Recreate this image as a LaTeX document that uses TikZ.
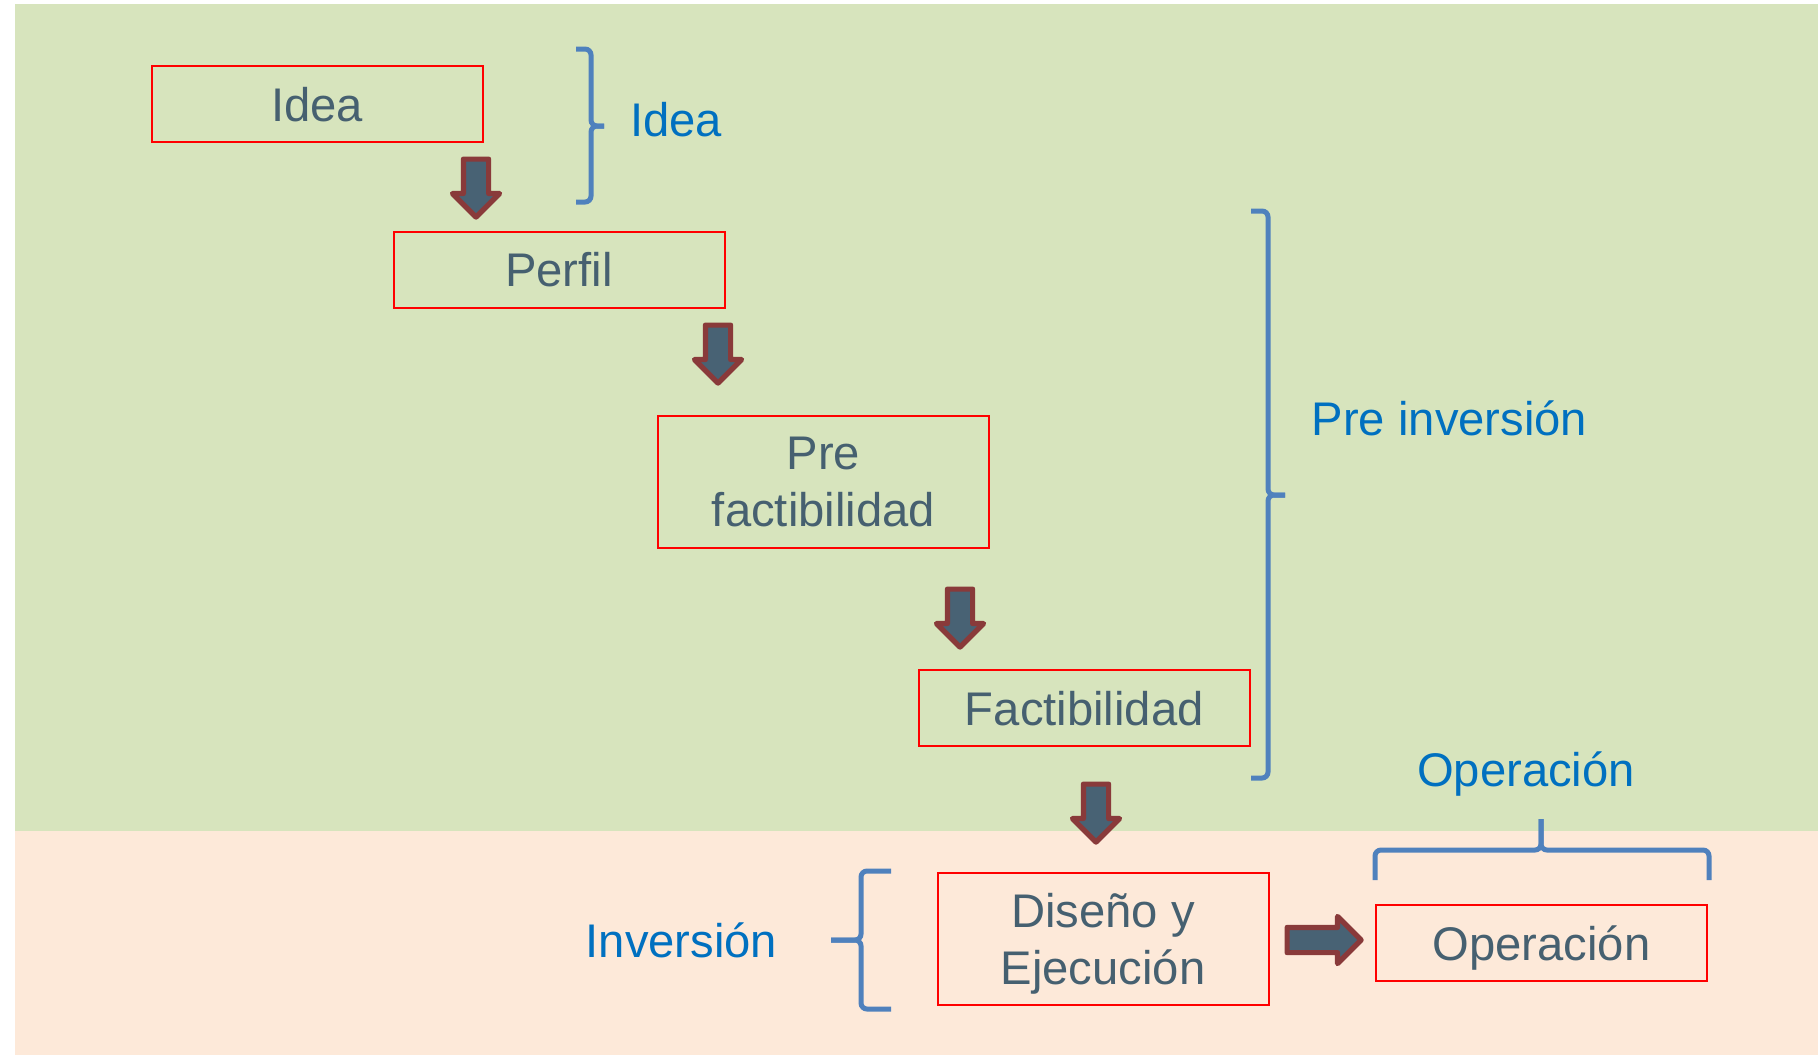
\documentclass[tikz,border=0pt]{standalone}
\usepackage{fontspec}
\setmainfont{Liberation Sans}
\usetikzlibrary{shapes.arrows}
\definecolor{fondoverde}{RGB}{215,228,189}
\definecolor{fondorosa}{RGB}{253,233,217}
\definecolor{texto}{RGB}{70,96,112}
\definecolor{rojo}{RGB}{255,0,0}
\definecolor{flecharel}{RGB}{72,98,116}
\definecolor{flechaborde}{RGB}{137,58,58}
\definecolor{llaveazul}{RGB}{79,129,189}
\definecolor{etiqueta}{RGB}{0,112,192}
\tikzset{
  caja/.style={draw=rojo,line width=1pt,minimum width=165.5pt,minimum height=38pt,
    text=texto,align=center,text depth=0pt,font=\fontsize{23.6}{28.5}\selectfont},
  flecha/.style={single arrow,draw=flechaborde,fill=flecharel,line width=2.6pt,line join=round,
    inner sep=5pt,minimum width=21pt,single arrow head extend=5.5pt,
    minimum height=29pt,anchor=tail},
  llave/.style={draw=llaveazul,line width=2.5pt,rounded corners=3pt},
  etapa/.style={text=etiqueta,anchor=base,font=\fontsize{23.6}{28.5}\selectfont},
}
\begin{document}
\begin{tikzpicture}[x=0.5pt,y=-0.5pt]
  \useasboundingbox (0,0) rectangle (1818,1055);
  \fill[fondoverde] (15,4) rectangle (1818,831);
  \fill[fondorosa] (15,831) rectangle (1818,1055);
  \node[caja] (idea) at (317,104) {Idea};
  \node[caja] (perfil) at (559,269.5) {Perfil};
  \node[caja,minimum height=66pt] (prefact) at (823.5,482) {Pre\\factibilidad};
  \node[caja] (fact) at (1084.3,708) {Factibilidad};
  \node[caja,minimum height=66pt] (diseno) at (1103,938.5) {Diseño y\\Ejecución};
  \node[caja] (operacion) at (1541.5,943) {Operación};
  \node[flecha,shape border rotate=270] (f1) at (476,156.5) {};
  \node[flecha,shape border rotate=270] (f2) at (718,322.5) {};
  \node[flecha,shape border rotate=270] (f3) at (960,586.5) {};
  \node[flecha,shape border rotate=270] (f4) at (1096,781.5) {};
  \node[flecha,minimum height=37pt] (f5) at (1284.5,940) {};
  \draw[llave] (576,49) -| (591,126) -- (604,126);
  \draw[llave] (604,126) -- (591,126) |- (576,202);
  \draw[llave] (1251,211) -| (1268,495) -- (1285,495);
  \draw[llave] (1285,495) -- (1268,495) |- (1251,778);
  \draw[llave] (891,871) -| (861,940) -- (831,940);
  \draw[llave] (831,940) -- (861,940) |- (891,1009);
  \draw[llave] (1375,880) |- (1541,850) -- (1541,819);
  \draw[llave] (1541,819) -- (1541,850) -| (1709,880);
  \node[etapa] (lidea) at (676,136.7) {Idea};
  \node[etapa] (lpre) at (1449.5,435.6) {Pre inversión};
  \node[etapa] (lope) at (1526,786.7) {Operación};
  \node[etapa] (linv) at (681.4,957.3) {Inversión};
\end{tikzpicture}
\end{document}
